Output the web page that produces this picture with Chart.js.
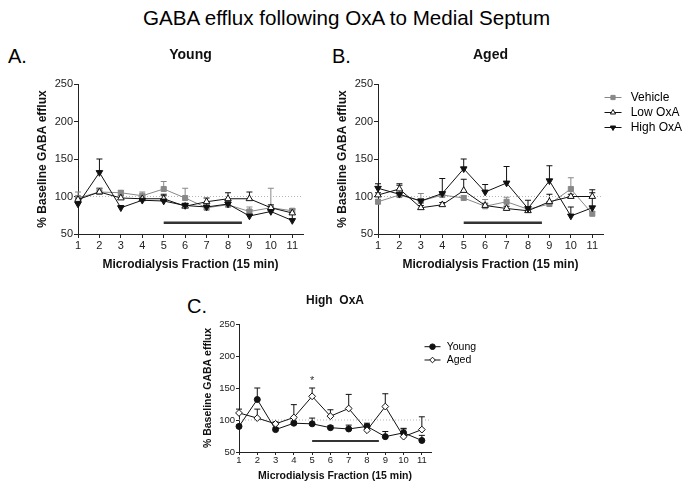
<!DOCTYPE html>
<html>
<head>
<meta charset="utf-8">
<script src="https://cdn.jsdelivr.net/npm/chart.js@4.4.1/dist/chart.umd.min.js"></script>
<style>
  body { margin: 0; background: #fff; }
  #page { position: relative; width: 693px; height: 491px; overflow: hidden; font-family: "Liberation Sans", Arial, sans-serif; color: #000; }
  .lbl { position: absolute; white-space: nowrap; line-height: 23px; font-size: 20px; }
  canvas { position: absolute; }
</style>
</head>
<body>
<div id="page">
  <div class="lbl" style="left:0;width:693px;text-align:center;top:6px;font-size:20.6px;">GABA efflux following OxA to Medial Septum</div>
  <div class="lbl" style="left:8px;top:45px;">A.</div>
  <div class="lbl" style="left:332px;top:45px;">B.</div>
  <div class="lbl" style="left:187px;top:295px;">C.</div>
  <canvas id="chartA" width="320" height="245" style="left:0;top:40px"></canvas>
  <canvas id="chartB" width="373" height="245" style="left:320px;top:40px"></canvas>
  <canvas id="chartC" width="330" height="200" style="left:180px;top:290px"></canvas>
</div>
<script>
// microdialysis fractions (x axis) and % baseline values
var fractions = [1, 2, 3, 4, 5, 6, 7, 8, 9, 10, 11];
var yTicks = [50, 100, 150, 200, 250];

var youngVehicle    = [98, 106, 105, 101, 110, 98, 85, 89, 80, 85, 81];
var youngVehicleSem = [8, 5, 3, 5, 10, 13, 2, 3, 6, 26, 3];
var youngLowOxa     = [96, 106, 98, 97, 97, 87, 93, 97, 97, 85, 78];
var youngLowOxaSem  = [3, 5, 3, 4, 4, 3, 5, 8, 9, 4, 5];
var youngHighOxa    = [90, 132, 85, 95, 94, 88, 86, 90, 74, 80, 68];
var youngHighOxaSem = [2, 18, 3, 3, 9, 3, 6, 3, 8, 7, 8];

var agedVehicle     = [93, 102, 94, 102, 98, 87, 93, 83, 90, 110, 77];
var agedVehicleSem  = [3, 6, 10, 3, 3, 9, 6, 3, 3, 15, 3];
var agedLowOxa      = [102, 110, 85, 89, 108, 88, 84, 81, 93, 100, 100];
var agedLowOxaSem   = [3, 5, 3, 3, 15, 3, 3, 3, 10, 3, 9];
var agedHighOxa     = [111, 103, 94, 104, 137, 106, 118, 84, 121, 74, 85];
var agedHighOxaSem  = [6, 14, 3, 20, 13, 10, 22, 11, 20, 12, 20];

var baselineLevel = 100;
var treatmentStart = 5;
var treatmentEnd = 8.65;

Chart.defaults.font.family = '"Liberation Sans", Arial, sans-serif';
Chart.defaults.color = '#222';

// one-sided (upper) error bars
var errorBars = {
  id: 'errorBars',
  beforeDatasetsDraw: function (chart) {
    var ctx = chart.ctx, y = chart.scales.y;
    chart.data.datasets.forEach(function (ds, i) {
      if (!ds.errors) return;
      var meta = chart.getDatasetMeta(i);
      ctx.save();
      ctx.strokeStyle = ds.borderColor;
      ctx.lineWidth = 1;
      meta.data.forEach(function (pt, j) {
        var top = y.getPixelForValue(ds.data[j].y + ds.errors[j]);
        ctx.beginPath();
        ctx.moveTo(pt.x, pt.y);
        ctx.lineTo(pt.x, top);
        ctx.moveTo(pt.x - 3, top);
        ctx.lineTo(pt.x + 3, top);
        ctx.stroke();
      });
      ctx.restore();
    });
  }
};

// legend drawn beside the plot: line with the series marker
var sideLegend = {
  id: 'sideLegend',
  afterDraw: function (chart, args, opts) {
    if (!opts.items) return;
    var ctx = chart.ctx, area = chart.chartArea;
    opts.items.forEach(function (idx, k) {
      var ds = chart.data.datasets[idx];
      var cx = area.right + opts.markerX;
      var cy = area.top + opts.top + k * opts.spacing;
      ctx.save();
      ctx.strokeStyle = ds.borderColor;
      ctx.lineWidth = 1;
      ctx.beginPath();
      ctx.moveTo(cx - opts.lineHalf, cy);
      ctx.lineTo(cx + opts.lineHalf, cy);
      ctx.stroke();
      ctx.fillStyle = ds.pointBackgroundColor;
      ctx.strokeStyle = ds.pointBorderColor;
      Chart.helpers.drawPoint(ctx, {
        pointStyle: ds.pointStyle,
        rotation: ds.pointRotation || 0,
        radius: opts.radius,
        borderWidth: 1
      }, cx, cy);
      ctx.fillStyle = '#000';
      ctx.font = opts.fontSize + 'px "Liberation Sans", Arial, sans-serif';
      ctx.textAlign = 'left';
      ctx.textBaseline = 'middle';
      ctx.fillText(ds.label, area.right + opts.textX, cy);
      ctx.restore();
    });
  }
};

// significance marks
var markText = {
  id: 'markText',
  afterDatasetsDraw: function (chart, args, opts) {
    if (!opts.items) return;
    var ctx = chart.ctx;
    opts.items.forEach(function (it) {
      var px = chart.scales.x.getPixelForValue(it.x);
      var py = chart.scales.y.getPixelForValue(it.y);
      ctx.save();
      ctx.fillStyle = '#333';
      ctx.font = opts.fontSize + 'px "Liberation Sans", Arial, sans-serif';
      ctx.textAlign = 'center';
      ctx.textBaseline = 'alphabetic';
      ctx.fillText(it.text, px, py + opts.fontSize * 0.57);
      ctx.restore();
    });
  }
};

Chart.register(errorBars, sideLegend, markText);

var styleVehicle = { borderColor: '#888', pointBackgroundColor: '#888', pointBorderColor: '#888', pointStyle: 'rect', pointRadius: 3.6 };
var styleLow = { borderColor: '#111', pointBackgroundColor: '#fff', pointBorderColor: '#111', pointStyle: 'triangle', pointRadius: 3.8 };
var styleHigh = { borderColor: '#111', pointBackgroundColor: '#111', pointBorderColor: '#111', pointStyle: 'triangle', pointRotation: 180, pointRadius: 3.8 };
var styleYoung = { borderColor: '#111', pointBackgroundColor: '#111', pointBorderColor: '#111', pointStyle: 'circle', pointRadius: 3 };
var styleAged = { borderColor: '#111', pointBackgroundColor: '#fff', pointBorderColor: '#111', pointStyle: 'rectRot', pointRadius: 3.4 };

function series(label, values, sem, st) {
  return Object.assign({
    label: label,
    data: values.map(function (v, i) { return { x: fractions[i], y: v }; }),
    errors: sem,
    borderWidth: 1,
    pointBorderWidth: 1,
    pointHoverRadius: 0,
    clip: false
  }, st);
}

function baselineSet() {
  return {
    data: [{ x: 1, y: baselineLevel }, { x: 11.5, y: baselineLevel }],
    borderColor: '#b5b5b5', borderDash: [1, 2], borderWidth: 1, pointRadius: 0, clip: false
  };
}

function treatmentSet(level, width) {
  return {
    data: [{ x: treatmentStart, y: level }, { x: treatmentEnd, y: level }],
    borderColor: '#333', borderWidth: width, borderCapStyle: 'butt', pointRadius: 0, clip: false
  };
}

function panel(id, p) {
  return new Chart(document.getElementById(id), {
    type: 'line',
    data: { datasets: p.datasets },
    options: {
      responsive: false,
      animation: false,
      events: [],
      layout: { padding: { left: 0, top: 0, bottom: 0, right: p.padRight } },
      plugins: {
        legend: { display: false },
        tooltip: { enabled: false },
        title: {
          display: true,
          text: p.title,
          fullSize: false,
          color: '#111',
          font: { size: p.titleSize, weight: 'bold' },
          padding: { top: p.titleTop, bottom: p.titleBottom }
        },
        sideLegend: p.legend,
        markText: p.marks || {}
      },
      scales: {
        x: {
          type: 'linear',
          min: 1,
          max: 11.5,
          afterBuildTicks: function (s) { s.ticks = fractions.map(function (v) { return { value: v }; }); },
          afterFit: function (s) { s.height = p.xHeight; },
          grid: { drawOnChartArea: false, color: '#222', tickLength: p.tickLen },
          border: { color: '#222', width: 1 },
          ticks: { font: { size: p.tickSize }, padding: p.xTickPad, maxRotation: 0, autoSkip: false },
          title: {
            display: true,
            text: 'Microdialysis Fraction (15 min)',
            color: '#111',
            font: { size: p.axisSize, weight: 'bold' },
            padding: { top: 0, bottom: p.xTitlePad }
          }
        },
        y: {
          min: 50,
          max: 250,
          afterBuildTicks: function (s) { s.ticks = yTicks.map(function (v) { return { value: v }; }); },
          afterFit: function (s) { s.width = p.yWidth; },
          grid: { drawOnChartArea: false, color: '#222', tickLength: p.tickLen },
          border: { color: '#222', width: 1 },
          ticks: { font: { size: p.tickSize }, padding: 1 },
          title: {
            display: true,
            text: '% Baseline GABA efflux',
            color: '#111',
            font: { size: p.axisSize, weight: 'bold' },
            padding: { top: p.yTitlePad, bottom: 0 }
          }
        }
      }
    }
  });
}

panel('chartA', {
  title: 'Young', titleSize: 14, titleTop: 6.6, titleBottom: 20.6,
  padRight: 17, yWidth: 78, xHeight: 51, tickLen: 4, tickSize: 11, xTickPad: 1,
  axisSize: 12, xTitlePad: 12.8, yTitlePad: 35,
  datasets: [
    series('High OxA', youngHighOxa, youngHighOxaSem, styleHigh),
    series('Low OxA', youngLowOxa, youngLowOxaSem, styleLow),
    series('Vehicle', youngVehicle, youngVehicleSem, styleVehicle),
    treatmentSet(65, 2.5),
    baselineSet()
  ],
  legend: {}
});

panel('chartB', {
  title: 'Aged', titleSize: 14, titleTop: 6.6, titleBottom: 20.6,
  padRight: 90, yWidth: 58, xHeight: 51, tickLen: 4, tickSize: 11, xTickPad: 1,
  axisSize: 12, xTitlePad: 12.8, yTitlePad: 15.8,
  datasets: [
    series('High OxA', agedHighOxa, agedHighOxaSem, styleHigh),
    series('Low OxA', agedLowOxa, agedLowOxaSem, styleLow),
    series('Vehicle', agedVehicle, agedVehicleSem, styleVehicle),
    treatmentSet(65, 2.5),
    baselineSet()
  ],
  legend: { items: [2, 1, 0], markerX: 10, lineHalf: 8.5, textX: 27.7, top: 13.5, spacing: 15, radius: 3, fontSize: 12 }
});

panel('chartC', {
  title: 'High  OxA', titleSize: 12, titleTop: 3.8, titleBottom: 15.8,
  padRight: 79, yWidth: 59, xHeight: 38, tickLen: 3, tickSize: 9.5, xTickPad: 0,
  axisSize: 10.5, xTitlePad: 7.7, yTitlePad: 22.2,
  datasets: [
    series('Aged', agedHighOxa, agedHighOxaSem, styleAged),
    series('Young', youngHighOxa, youngHighOxaSem, styleYoung),
    treatmentSet(67, 2),
    baselineSet()
  ],
  legend: { items: [1, 0], markerX: 1.5, lineHalf: 8, textX: 15.7, top: 22.7, spacing: 13.3, radius: 2.8, fontSize: 10.5 },
  marks: { items: [{ x: 5, y: 166, text: '*' }], fontSize: 11 }
});
</script>
</body>
</html>
